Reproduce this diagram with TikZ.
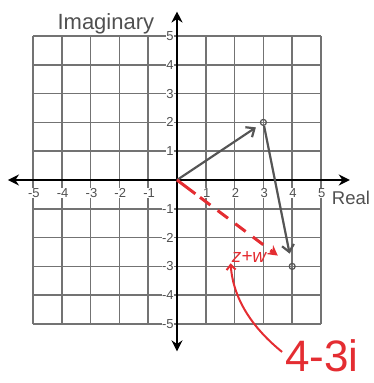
\documentclass[tikz,border=0pt]{standalone}
\usepackage{fontspec}
\setmainfont{Liberation Sans}
\usetikzlibrary{arrows.meta,calc}
\definecolor{gridgray}{RGB}{115,115,115}
\definecolor{vecgray}{RGB}{85,85,85}
\definecolor{labgray}{RGB}{80,80,80}
\definecolor{handred}{RGB}{228,45,50}
\tikzset{
  gridline/.style={draw=gridgray,line width=1.6pt},
  axisline/.style={draw=black,line width=2.6pt,{Stealth[length=11pt,width=11pt]}-{Stealth[length=11pt,width=11pt]}},
  ticklab/.style={font=\fontsize{13}{13}\selectfont,text=labgray,inner sep=0.5pt,fill=white},
  vecline/.style={draw=vecgray,line width=2.2pt,-{Straight Barb[length=7pt,width=12pt,line width=2.2pt]}},
  ptmark/.style={circle,draw=vecgray,line width=1.2pt,minimum size=6pt,inner sep=0pt},
  redline/.style={draw=handred,line width=3pt},
}
\begin{document}
\begin{tikzpicture}[x=28.8pt,y=28.8pt]
\useasboundingbox (-6.1458,-7.0486) rectangle (6.8403,6.25);
% grid
\foreach \i in {-5,...,5} {
  \draw[gridline] (\i,-5) -- (\i,5);
  \draw[gridline] (-5,\i) -- (5,\i);
}
% axes
\coordinate (xl) at (-5.87,0);
\coordinate (xr) at (6.0,0);
\coordinate (yt) at (0,5.85);
\coordinate (yb) at (0,-5.95);
\draw[axisline] (xl) -- (xr);
\draw[axisline] (yb) -- (yt);
% tick labels
\foreach \i in {-5,-4,-3,-2,-1,1,2,3,4,5} {
  \node[ticklab] (xt\i) at (\i+0.03,-0.45) {\i};
  \node[ticklab,anchor=east] (yt\i) at (-0.09,\i) {\i};
}
% axis titles
\node[font=\fontsize{22}{22}\selectfont,text=labgray,anchor=base,inner sep=0pt] (imag) at (-2.47,5.21) {Imaginary};
\node[font=\fontsize{18.5}{18.5}\selectfont,text=labgray,inner sep=0pt] (real) at (6.04,-0.63) {Real};
% points
\coordinate (O) at (0,0);
\node[ptmark] (A) at (3,2) {};
\node[ptmark] (B) at (4,-3) {};
% gray vectors
\draw[vecline,shorten >=9pt] (O) -- (A.center);
\draw[vecline,shorten >=13pt] (A) -- (B.center);
% red sum vector
\coordinate (r1) at ($(O)!0.16!(B)$);
\coordinate (r2) at ($(O)!0.2!(B)$);
\draw[redline] (O) -- (r1);
\draw[redline,dash pattern=on 13pt off 9pt,-{Stealth[length=10pt,width=11pt]},shorten >=18pt] (r2) -- (B.center);
\node[text=handred,font=\fontsize{19}{19}\selectfont\itshape,inner sep=1pt] (zw) at (2.5,-2.66) {z+w};
% annotation
\node[text=handred,font=\fontsize{44}{44}\selectfont,inner sep=0pt] (ans) at (5.03,-6.1) {4-3i};
\draw[draw=handred,line width=2pt,-{Straight Barb[length=5pt,width=9pt]}] ($(ans.west)+(-0.1,0.13)$) .. controls (2.7,-5.2) and (1.95,-4.2) .. (zw.south west);
\end{tikzpicture}
\end{document}
